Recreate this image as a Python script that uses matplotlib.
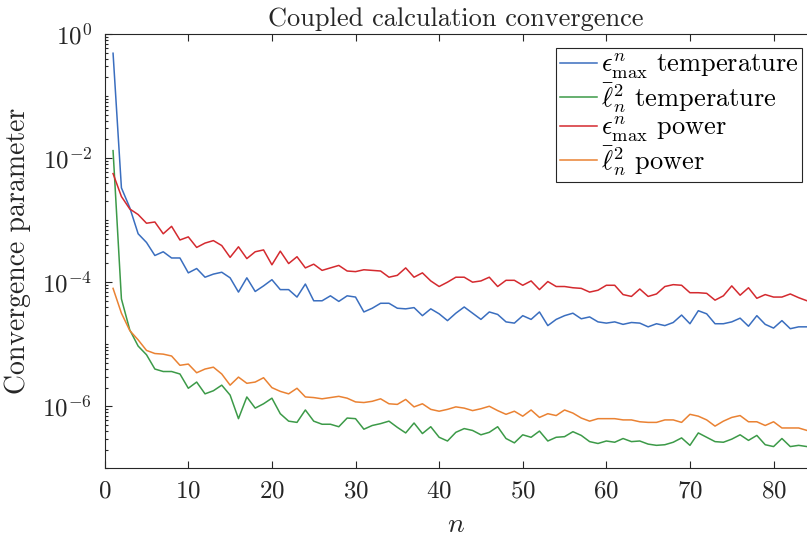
import numpy as np
import matplotlib
matplotlib.use("Agg")
from matplotlib import pyplot as plt
from matplotlib import ticker

# iteration index and convergence parameters (log10 of the value)
n_iter = np.arange(1, 85)

eps_max_temp_exp = [
    -0.31, -2.48, -2.80, -3.22, -3.36, -3.57, -3.51, -3.61, -3.61, -3.85,
    -3.78, -3.92, -3.87, -3.84, -3.93, -4.16, -3.93, -4.15, -4.06, -3.96,
    -4.12, -4.12, -4.24, -4.03, -4.30, -4.30, -4.22, -4.31, -4.22, -4.24,
    -4.48, -4.42, -4.34, -4.34, -4.42, -4.43, -4.41, -4.54, -4.43, -4.51,
    -4.62, -4.50, -4.40, -4.50, -4.60, -4.48, -4.52, -4.64, -4.66, -4.54,
    -4.60, -4.48, -4.70, -4.60, -4.54, -4.50, -4.59, -4.56, -4.64, -4.66,
    -4.64, -4.68, -4.65, -4.66, -4.72, -4.67, -4.70, -4.65, -4.53, -4.67,
    -4.46, -4.51, -4.67, -4.67, -4.64, -4.58, -4.71, -4.54, -4.68, -4.74,
    -4.62, -4.75, -4.72, -4.72,
]
l2_temp_exp = [
    -1.88, -4.27, -4.77, -5.03, -5.17, -5.40, -5.44, -5.44, -5.48, -5.71,
    -5.61, -5.80, -5.75, -5.66, -5.82, -6.20, -5.85, -6.03, -5.96, -5.87,
    -6.12, -6.24, -6.26, -6.06, -6.24, -6.29, -6.29, -6.33, -6.19, -6.20,
    -6.37, -6.31, -6.28, -6.24, -6.34, -6.43, -6.27, -6.44, -6.33, -6.50,
    -6.56, -6.42, -6.36, -6.39, -6.46, -6.42, -6.33, -6.52, -6.59, -6.46,
    -6.50, -6.40, -6.56, -6.50, -6.49, -6.41, -6.47, -6.57, -6.60, -6.56,
    -6.58, -6.52, -6.57, -6.56, -6.61, -6.63, -6.62, -6.58, -6.51, -6.63,
    -6.43, -6.50, -6.57, -6.58, -6.53, -6.46, -6.55, -6.47, -6.62, -6.65,
    -6.52, -6.65, -6.63, -6.65,
]
eps_max_power_exp = [
    -2.25, -2.62, -2.82, -2.91, -3.05, -3.03, -3.22, -3.10, -3.32, -3.27,
    -3.44, -3.37, -3.33, -3.41, -3.60, -3.43, -3.62, -3.51, -3.48, -3.72,
    -3.50, -3.70, -3.59, -3.77, -3.71, -3.81, -3.77, -3.73, -3.82, -3.83,
    -3.80, -3.81, -3.82, -3.92, -3.89, -3.77, -3.92, -3.85, -3.98, -4.07,
    -4.00, -3.92, -3.92, -4.00, -3.98, -3.92, -4.07, -3.97, -3.97, -4.05,
    -3.98, -4.12, -3.99, -4.07, -4.07, -4.09, -4.10, -4.16, -4.13, -4.05,
    -4.05, -4.20, -4.23, -4.11, -4.23, -4.19, -4.07, -4.04, -4.05, -4.17,
    -4.17, -4.18, -4.29, -4.22, -4.06, -4.21, -4.09, -4.26, -4.20, -4.24,
    -4.24, -4.19, -4.25, -4.30,
]
l2_power_exp = [
    -4.10, -4.50, -4.78, -4.93, -5.10, -5.15, -5.16, -5.19, -5.34, -5.32,
    -5.46, -5.40, -5.37, -5.48, -5.66, -5.53, -5.63, -5.61, -5.54, -5.70,
    -5.76, -5.80, -5.71, -5.85, -5.86, -5.88, -5.86, -5.84, -5.87, -5.93,
    -5.94, -5.92, -5.88, -5.96, -5.97, -5.89, -6.01, -5.96, -6.05, -6.08,
    -6.05, -6.01, -6.03, -6.07, -6.04, -6.00, -6.07, -6.13, -6.08, -6.16,
    -6.06, -6.18, -6.12, -6.15, -6.06, -6.11, -6.19, -6.24, -6.20, -6.20,
    -6.20, -6.22, -6.22, -6.25, -6.26, -6.26, -6.22, -6.22, -6.26, -6.13,
    -6.16, -6.22, -6.32, -6.24, -6.18, -6.15, -6.25, -6.25, -6.31, -6.25,
    -6.35, -6.35, -6.35, -6.39,
]

series = [
    (eps_max_temp_exp, r"$\epsilon^n_{\mathrm{max}}$ temperature", "#3a6ebf"),
    (l2_temp_exp, r"$\bar{\ell}^2_n$ temperature", "#3c9a48"),
    (eps_max_power_exp, r"$\epsilon^n_{\mathrm{max}}$ power", "#d42a2f"),
    (l2_power_exp, r"$\bar{\ell}^2_n$ power", "#ea8233"),
]

plt.rcParams["font.family"] = "cmr10"
plt.rcParams["mathtext.fontset"] = "cm"
plt.rcParams["axes.formatter.use_mathtext"] = True
plt.rcParams["axes.unicode_minus"] = False

W, H = 807, 539
fig = plt.figure(figsize=(W / 100, H / 100), dpi=100)
ax = fig.add_axes([104.7 / W, 1 - 468.3 / H, (W - 104.7) / W, (468.3 - 34) / H])

for exps, label, color in series:
    ax.plot(n_iter, 10.0 ** np.asarray(exps), color=color, lw=1.1, label=label)

ax.set_yscale("log")
ax.set_xlim(0, 84)
ax.set_ylim(1e-7, 1e0)

# major ticks every two decades, minor ticks at 1..9 x 10^k
ax.yaxis.set_major_locator(ticker.FixedLocator([1e0, 1e-2, 1e-4, 1e-6]))
ax.yaxis.set_major_formatter(ticker.LogFormatterSciNotation())
minors = [k * 10.0 ** d for d in range(-7, 0) for k in range(1, 10)]
minors = [m for m in minors if not np.isclose(np.log10(m) % 2, 0)]
ax.yaxis.set_minor_locator(ticker.FixedLocator(minors))
ax.yaxis.set_minor_formatter(ticker.NullFormatter())
ax.xaxis.set_major_locator(ticker.MultipleLocator(10))
ax.xaxis.set_major_formatter(ticker.FuncFormatter(lambda v, _: f"${v:.0f}$"))

edge = "#262626"
for side in ("left", "bottom", "top"):
    ax.spines[side].set_color(edge)
    ax.spines[side].set_linewidth(0.8)
ax.spines["right"].set_visible(False)

ax.tick_params(which="both", direction="in", top=True, right=False,
               color=edge, width=0.8, labelcolor="#262626")
ax.tick_params(which="major", length=5, labelsize=18, pad=9)
ax.tick_params(which="minor", length=2.5)

ax.set_title("Coupled calculation convergence", fontsize=19, color="#262626", pad=6)
ax.set_xlabel(r"$n$", fontsize=20, color="#262626", labelpad=6)
ax.set_ylabel("Convergence parameter", fontsize=20, color="#262626", labelpad=8)

leg = ax.legend(loc="upper right", bbox_to_anchor=(0.993, 0.968), borderaxespad=0,
                fontsize=19, frameon=True, fancybox=False, framealpha=1,
                edgecolor=edge, handlelength=1.4, handletextpad=0.15,
                labelspacing=0.0, borderpad=0.15)
leg.get_frame().set_linewidth(0.8)

fig.savefig("out.png", dpi=100)
